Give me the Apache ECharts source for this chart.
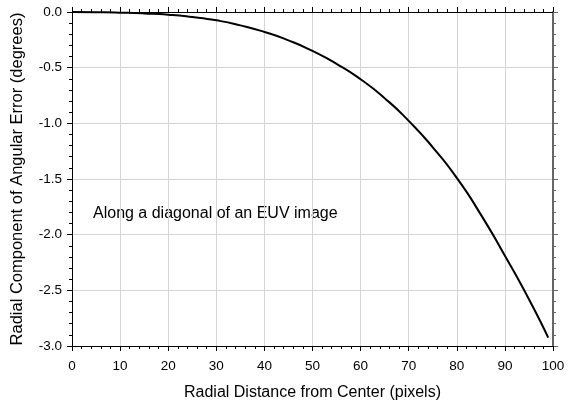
<!DOCTYPE html>
<html>
<head>
<meta charset="utf-8">
<script src="https://cdn.jsdelivr.net/npm/echarts@6/dist/echarts.min.js"></script>
<style>
  html, body { margin: 0; padding: 0; background: #fff; }
  #chart { width: 570px; height: 406px; }
</style>
</head>
<body>
<div id="chart"></div>
<script>
// radial distance (pixels) and radial angular error (degrees)
var distance = [0, 5, 10, 15, 20, 25, 30, 35, 40, 45, 50, 55, 60, 65, 70, 75, 80, 85, 90, 95, 99];
var angError = [0, -0.002, -0.006, -0.013, -0.024, -0.045, -0.075, -0.12, -0.179, -0.255, -0.35, -0.465, -0.604, -0.774, -0.978, -1.215, -1.49, -1.82, -2.19, -2.58, -2.925];
var xTicks = [0, 10, 20, 30, 40, 50, 60, 70, 80, 90, 100];
var yTicks = [0, -0.5, -1.0, -1.5, -2.0, -2.5, -3.0];
var noteText = 'Along a diagonal of an EUV image';

var font = 'Arial, "Liberation Sans", sans-serif';
var points = distance.map(function (d, i) { return [d, angError[i]]; });

var chart = echarts.init(document.getElementById('chart'));

function axisBase(pos, withLabels) {
    return {
        position: pos,
        axisLine: { show: true, onZero: false, lineStyle: { color: '#000', width: 1 } },
        axisTick: { show: true, inside: false, length: 5, lineStyle: { color: '#000' } },
        minorTick: { show: true, splitNumber: 5, length: 3, lineStyle: { color: '#000' } },
        axisLabel: { show: withLabels, color: '#000', fontFamily: font, fontSize: 13.5, margin: 10 },
        splitLine: { show: false }
    };
}

var xBottom = axisBase('bottom', true);
Object.assign(xBottom, {
    type: 'value', min: xTicks[0], max: xTicks[xTicks.length - 1], interval: 10,
    name: 'Radial Distance from Center (pixels)', nameLocation: 'middle', nameGap: 39,
    nameTextStyle: { color: '#000', fontFamily: font, fontSize: 16 },
    splitLine: { show: true, lineStyle: { color: '#d4d4d4', width: 1 } }
});
xBottom.axisLabel.margin = 13;
var xTop = axisBase('top', false);
Object.assign(xTop, { type: 'value', min: 0, max: 100, interval: 10 });

var yLeft = axisBase('left', true);
Object.assign(yLeft, {
    type: 'value', min: yTicks[yTicks.length - 1], max: yTicks[0], interval: 0.5,
    name: 'Radial Component of Angular Error (degrees)', nameLocation: 'middle', nameGap: 46,
    nameTextStyle: { color: '#000', fontFamily: font, fontSize: 16.5 },
    splitLine: { show: true, lineStyle: { color: '#d4d4d4', width: 1 } }
});
yLeft.axisLabel.formatter = function (v) { return v.toFixed(1); };
var yRight = axisBase('right', false);
Object.assign(yRight, { type: 'value', min: -3, max: 0, interval: 0.5 });
yRight.axisLine.lineStyle = { color: '#666', width: 2 };
yRight.axisTick.lineStyle = { color: '#666' };
yRight.minorTick.lineStyle = { color: '#666' };

chart.setOption({
    animation: false,
    grid: { left: 72, right: 17, top: 12, bottom: 59 },
    xAxis: [xBottom, xTop],
    yAxis: [yLeft, yRight],
    graphic: [{
        type: 'text', left: 93, top: 206,
        style: { text: noteText, fill: '#000', font: '16px ' + font }
    }],
    series: [{
        type: 'line',
        xAxisIndex: 0,
        yAxisIndex: 0,
        data: points,
        smooth: 0.6,
        showSymbol: false,
        lineStyle: { color: '#000', width: 2 }
    }]
});
</script>
</body>
</html>
